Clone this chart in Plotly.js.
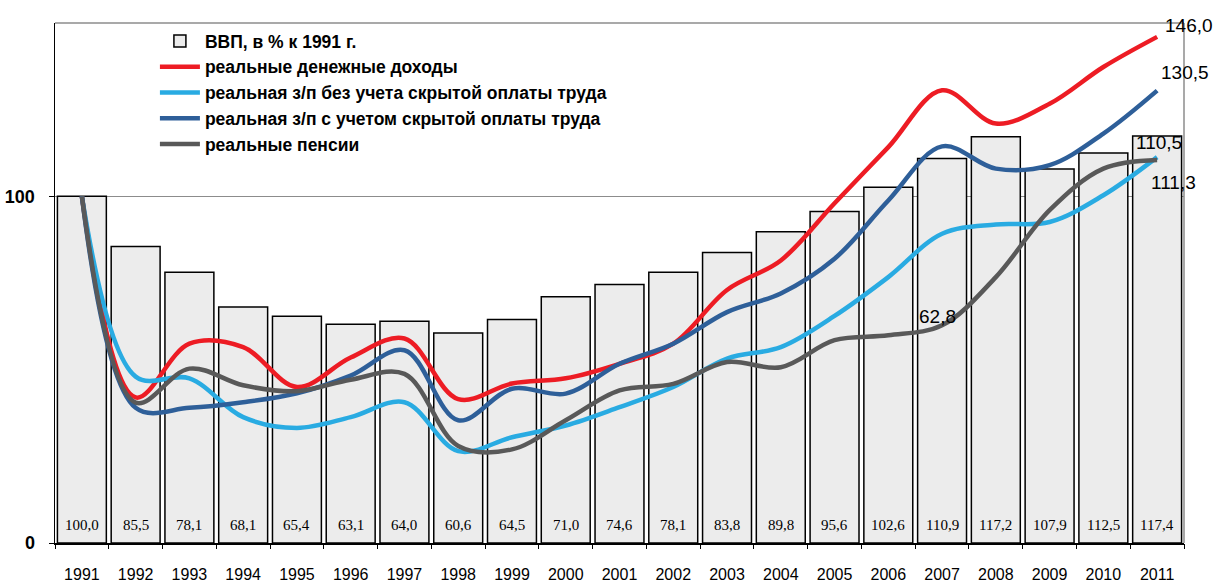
<!DOCTYPE html>
<html>
<head>
<meta charset="utf-8">
<script src="https://cdn.plot.ly/plotly-3.0.1.min.js"></script>
<style>html,body{margin:0;padding:0;background:#fff;}#chart{width:1213px;height:585px;}</style>
</head>
<body>
<div id="chart"></div>
<script>
// ---- data ----
var years = ['1991','1992','1993','1994','1995','1996','1997','1998','1999','2000','2001','2002','2003','2004','2005','2006','2007','2008','2009','2010','2011'];
var gdp = [100.0, 85.5, 78.1, 68.1, 65.4, 63.1, 64.0, 60.6, 64.5, 71.0, 74.6, 78.1, 83.8, 89.8, 95.6, 102.6, 110.9, 117.2, 107.9, 112.5, 117.4];
var incomes = [100, 42, 57.5, 56.5, 45, 53.5, 59, 41.5, 46, 47.5, 51.7, 57.5, 73, 81.5, 98, 114.2, 130.6, 121, 126.7, 137.3, 146.0];
var wageNoHidden = [100, 48, 47.5, 36.3, 33.2, 36.3, 40.6, 26.5, 30.5, 33.9, 39.2, 45, 53.2, 56.5, 65.5, 76.7, 89.2, 91.9, 92.6, 100.3, 111.3];
var wageHidden = [100, 39, 39, 40.6, 43.2, 48.3, 55.6, 35.4, 44.5, 43.1, 51.7, 57.5, 66.6, 72, 82, 98.8, 114.4, 108, 109, 118.1, 130.5];
var pensions = [100, 40.5, 50.3, 45.5, 43.8, 47.1, 48.8, 28, 27, 35.4, 44, 45.9, 52.2, 50.7, 58.5, 59.9, 62.8, 76.7, 96, 108, 110.5];
var names = ['ВВП, в % к 1991 г.', 'реальные денежные доходы', 'реальная з/п без учета скрытой оплаты труда', 'реальная з/п с учетом скрытой оплаты труда', 'реальные пенсии'];
var colors = ['#ececec', '#ed1c24', '#29abe2', '#2e5f99', '#595959'];

function fmt(v){ return v.toFixed(1).replace('.', ','); }

var sans = 'Liberation Sans, Arial, sans-serif';

var traces = [{
  type: 'bar', x: years, y: gdp, name: names[0],
  marker: {color: colors[0], line: {color: '#000', width: 1.5}},
  hoverinfo: 'none'
}];
var series = [incomes, wageNoHidden, wageHidden, pensions];
for (var i = 0; i < series.length; i++) {
  traces.push({
    type: 'scatter', mode: 'lines', x: years, y: series[i], name: names[i+1],
    line: {color: colors[i+1], width: 4.5, shape: 'spline', smoothing: 1},
    hoverinfo: 'none'
  });
}
// empty helper trace so the boundary-tick axis is drawn
traces.push({type: 'scatter', x: [], y: [], xaxis: 'x2', yaxis: 'y', showlegend: false, hoverinfo: 'none'});

// boundaries between categories for tick marks
var bounds = [];
for (var b = 0; b <= years.length; b++) bounds.push(b - 0.5);

var annotations = [];
for (var j = 0; j < years.length; j++) {
  annotations.push({
    x: j, y: 0, xref: 'x', yref: 'y', text: fmt(gdp[j]), showarrow: false,
    yanchor: 'bottom', yshift: 8,
    font: {family: 'Liberation Serif, Times New Roman, serif', size: 15, color: '#000'}
  });
}
var last = years.length - 1;
var lblFont = {family: sans, size: 19, color: '#000'};
annotations.push({x: last, y: incomes[last], text: fmt(incomes[last]), showarrow: false, xshift: 32, yshift: 11, font: lblFont});
annotations.push({x: last, y: wageHidden[last], text: fmt(wageHidden[last]), showarrow: false, xshift: 28, yshift: 18, font: lblFont});
annotations.push({x: last, y: pensions[last], text: fmt(pensions[last]), showarrow: false, xshift: 2, yshift: 17, font: lblFont});
annotations.push({x: last, y: wageNoHidden[last], text: fmt(wageNoHidden[last]), showarrow: false, xshift: 16, yshift: -25, font: lblFont});
annotations.push({x: 16, y: pensions[16], text: fmt(pensions[16]), showarrow: false, xshift: -5, yshift: 9, font: lblFont});

var layout = {
  width: 1213, height: 585,
  margin: {l: 55, r: 29, t: 23, b: 42},
  paper_bgcolor: '#fff', plot_bgcolor: '#fff',
  bargap: 0.09,
  showlegend: true,
  legend: {
    x: 0.0885, y: 1.0, xanchor: 'left', yanchor: 'top',
    bgcolor: 'rgba(0,0,0,0)', traceorder: 'normal',
    font: {family: sans, size: 17.5, color: '#000', weight: 'bold'},
    itemwidth: 40
  },
  xaxis: {
    type: 'category', range: [-0.5, 20.5],
    ticks: '', showline: true, linecolor: '#000', linewidth: 1.5,
    showgrid: false, zeroline: false,
    ticklabelstandoff: 16,
    tickfont: {family: sans, size: 16, color: '#000'}
  },
  xaxis2: {
    overlaying: 'x', anchor: 'y', side: 'bottom', type: 'linear',
    range: [-0.5, 20.5], tickvals: bounds, showticklabels: false,
    ticks: 'outside', ticklen: 5, tickcolor: '#000', tickwidth: 1,
    showline: false, showgrid: false, zeroline: false
  },
  yaxis: {
    range: [0, 150], tickvals: [0, 100], ticktext: ['0', '100'],
    ticks: 'outside', ticklen: 5, tickcolor: '#000',
    showline: true, linecolor: '#000', linewidth: 1.5,
    showgrid: true, gridcolor: '#8c8c8c', gridwidth: 1.5, zeroline: false,
    ticklabelstandoff: 10,
    tickfont: {family: sans, size: 18, color: '#000', weight: 'bold'}
  },
  shapes: [
    {type: 'line', xref: 'paper', yref: 'paper', x0: 0, x1: 1, y0: 1, y1: 1, line: {color: '#8c8c8c', width: 1.5}},
    {type: 'line', xref: 'paper', yref: 'paper', x0: 1, x1: 1, y0: 0, y1: 1, line: {color: '#8c8c8c', width: 1.5}}
  ],
  annotations: annotations
};

Plotly.newPlot('chart', traces, layout, {displayModeBar: false, staticPlot: true});
</script>
</body>
</html>
